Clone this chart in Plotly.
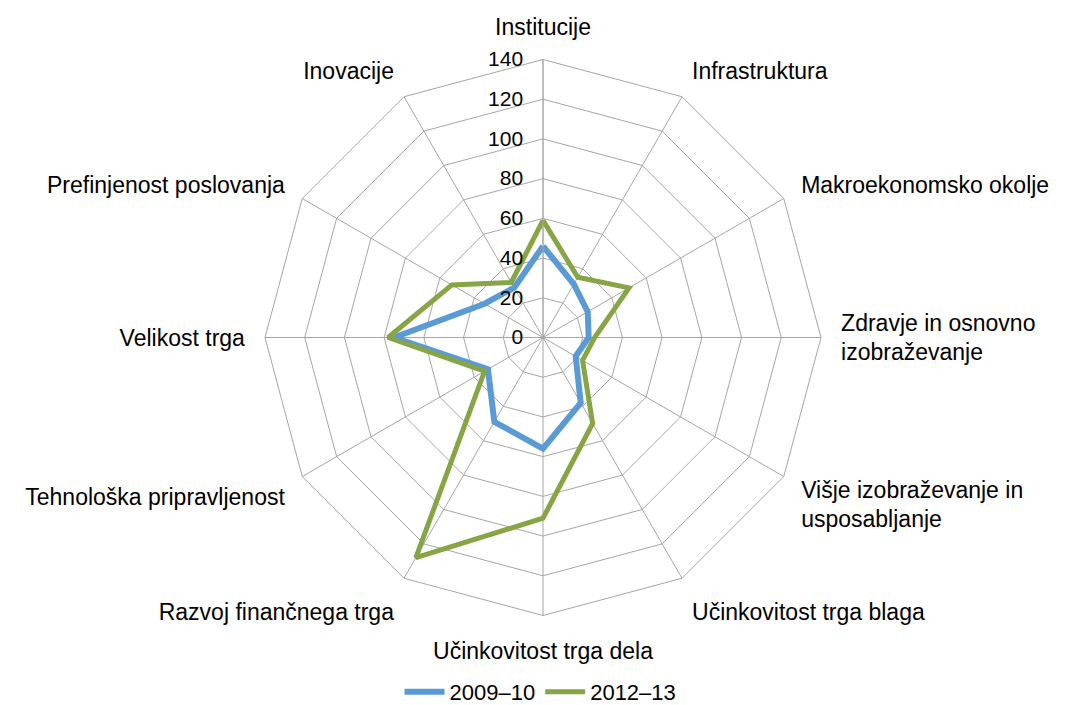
import plotly.graph_objects as go

categories = [
    "Institucije",
    "Infrastruktura",
    "Makroekonomsko okolje",
    "Zdravje in osnovno<br>izobraževanje",
    "Višje izobraževanje in<br>usposabljanje",
    "Učinkovitost trga blaga",
    "Učinkovitost trga dela",
    "Razvoj finančnega trga",
    "Tehnološka pripravljenost",
    "Velikost trga",
    "Prefinjenost poslovanja",
    "Inovacije",
]
series_2009 = [46, 31, 26, 23, 19, 38, 56, 49, 32, 75, 34, 29]
series_2012 = [59, 35, 50, 26, 23, 50, 91, 128, 34, 78, 53, 32]
radial_ticks = [0, 20, 40, 60, 80, 100, 120, 140]

fig = go.Figure()
fig.add_trace(go.Scatterpolar(
    r=series_2009 + series_2009[:1], theta=categories + categories[:1],
    mode="lines", name="2009–10",
    line=dict(color="#5B9BD5", width=6),
))
fig.add_trace(go.Scatterpolar(
    r=series_2012 + series_2012[:1], theta=categories + categories[:1],
    mode="lines", name="2012–13",
    line=dict(color="#87A545", width=5),
))

fig.update_layout(
    width=1065, height=705,
    margin=dict(l=0, r=0, t=0, b=0),
    paper_bgcolor="white",
    font=dict(family="Liberation Sans, Arial, sans-serif", size=23, color="#000000"),
    polar=dict(
        domain=dict(x=[257/1065, 813/1065], y=[1-608/705, 1-51/705]),
        bgcolor="white",
        gridshape="linear",
        radialaxis=dict(
            range=[0, 140], tickvals=radial_ticks, angle=90, tickangle=90,
            side="counterclockwise",
            showline=True, linecolor="#A6A6A6", linewidth=1,
            gridcolor="#A6A6A6", gridwidth=1,
            ticks="outside", ticklen=12, tickcolor="rgba(0,0,0,0)",
            tickfont=dict(size=21),
        ),
        angularaxis=dict(
            rotation=90, direction="clockwise",
            gridcolor="#A6A6A6", gridwidth=1,
            linecolor="#A6A6A6", linewidth=1,
            ticks="outside", ticklen=15, tickcolor="rgba(0,0,0,0)",
            tickfont=dict(size=23),
        ),
    ),
    legend=dict(
        orientation="h", x=0.5, xanchor="center", y=0.0, yanchor="bottom",
        font=dict(size=22), itemwidth=40,
    ),
)

fig.write_html("out.html")
